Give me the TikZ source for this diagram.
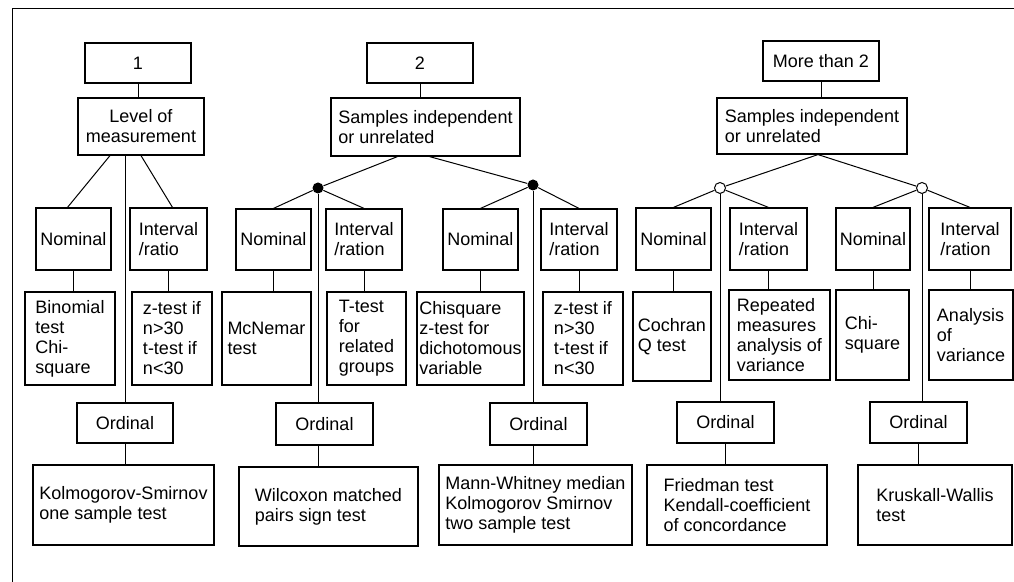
\documentclass[tikz,border=0pt]{standalone}
\usepackage{fontspec}
\setmainfont{Liberation Sans}
\usetikzlibrary{calc}
\begin{document}
\begin{tikzpicture}[x=0.5pt,y=-0.5pt,
box/.style={draw,line width=0.6pt,inner sep=1pt,align=left,font=\fontsize{9}{10}\selectfont},
link/.style={line width=0.5pt},
fdot/.style={circle,fill,inner sep=0pt,minimum size=5.5pt},
odot/.style={circle,draw,fill=white,line width=0.5pt,inner sep=0pt,minimum size=5.5pt}]
\useasboundingbox(0,0)rectangle(1014,582);
\draw[link](1014,9)--(12,9)--(12,582);
\node[box,minimum width=53pt,minimum height=20pt,align=center](one)at(138,63){1};
\node[box,minimum width=63pt,minimum height=28.5pt,align=center](lev)at(141,126.5){Level of\\measurement};
\node[box,minimum width=37.5pt,minimum height=31pt](nom1)at(73.5,239){Nominal};
\node[box,minimum width=38.5pt,minimum height=31pt](int1)at(168.5,239){Interval\\/ratio};
\node[box,minimum width=45pt,minimum height=46.5pt](res1a)at(70,338.5){Binomial\\test\\Chi-\\square};
\node[box,minimum width=40pt,minimum height=46.5pt](res1b)at(172,338.5){z-test if\\n>30\\t-test if\\n<30};
\node[box,minimum width=48pt,minimum height=20pt](ord1)at(125,423){Ordinal};
\node[box,minimum width=90.5pt,minimum height=40pt](ks1)at(123.5,505){Kolmogorov-Smirnov\\one sample test};
\draw[link](one.south)--(one.south|-lev.north);
\draw[link]([xshift=-15.5pt]lev.south)--([xshift=-3pt]nom1.north);
\draw[link](lev.south)--([xshift=2pt]int1.north);
\draw[link](ord1|-lev.south)--(ord1.north);
\draw[link](nom1.south)--(nom1.south|-res1a.north);
\draw[link](int1.south)--(int1.south|-res1b.north);
\draw[link](ord1.south)--(ord1.south|-ks1.north);
\node[box,minimum width=53pt,minimum height=20pt,align=center](two)at(420,63){2};
\node[box,minimum width=94.5pt,minimum height=29pt](sam2)at(425.5,127){Samples independent\\or unrelated};
\node[fdot](dA)at(318,188){};
\node[fdot](dB)at(533,185){};
\node[box,minimum width=37.5pt,minimum height=30.5pt](nom2a)at(273.5,239.5){Nominal};
\node[box,minimum width=38pt,minimum height=30.5pt](int2a)at(364,239.5){Interval\\/ration};
\node[box,minimum width=37.5pt,minimum height=30.5pt](nom2b)at(480.5,239.5){Nominal};
\node[box,minimum width=38pt,minimum height=30.5pt](int2b)at(579,239.5){Interval\\/ration};
\node[box,minimum width=44.5pt,minimum height=46.5pt](res2a)at(266.5,338.5){McNemar\\test};
\node[box,minimum width=39.5pt,minimum height=46.5pt](res2b)at(366.5,338.5){T-test\\for\\related\\groups};
\node[box,minimum width=53.5pt,minimum height=46.5pt](res2c)at(470.5,338.5){Chisquare\\z-test for\\dichotomous\\variable};
\node[box,minimum width=40pt,minimum height=46.5pt](res2d)at(583,338.5){z-test if\\n>30\\t-test if\\n<30};
\node[box,minimum width=48.5pt,minimum height=21pt](ord2a)at(324.5,424){Ordinal};
\node[box,minimum width=48.5pt,minimum height=21pt](ord2b)at(538.5,424){Ordinal};
\node[box,minimum width=89.5pt,minimum height=39.5pt](wil)at(328.5,506.5){Wilcoxon matched\\pairs sign test};
\node[box,minimum width=96.5pt,minimum height=40pt](mw)at(535.5,505){Mann-Whitney median\\Kolmogorov Smirnov\\two sample test};
\draw[link](two.south)--(two.south|-sam2.north);
\draw[link]([xshift=-14pt]sam2.south)--(dA)--(nom2a.north) (dA)--(int2a.north);
\draw[link]([xshift=2pt]sam2.south)--(dB)--(nom2b.north) (dB)--(int2b.north);
\draw[link](dA)--(dA|-ord2a.north) (dA|-ord2a.south)--(dA|-wil.north);
\draw[link](dB)--(dB|-ord2b.north) (dB|-ord2b.south)--(dB|-mw.north);
\draw[link](nom2a.south)--(nom2a.south|-res2a.north);
\draw[link](int2a.south)--(int2a.south|-res2b.north);
\draw[link](nom2b.south)--(nom2b.south|-res2c.north);
\draw[link](int2b.south)--(int2b.south|-res2d.north);
\node[box,minimum width=58pt,minimum height=20pt,align=center](more)at(821,61){More than 2};
\node[box,minimum width=95pt,minimum height=28pt](sam3)at(812,126){Samples independent\\or unrelated};
\node[odot](dC)at(720,188){};
\node[odot](dD)at(922,188){};
\node[box,minimum width=37.5pt,minimum height=31pt](nom3a)at(673.5,239){Nominal};
\node[box,minimum width=38.5pt,minimum height=31pt](int3a)at(768.5,239){Interval\\/ration};
\node[box,minimum width=37pt,minimum height=31pt](nom3b)at(873,239){Nominal};
\node[box,minimum width=41pt,minimum height=31pt](int3b)at(970,239){Interval\\/ration};
\node[box,minimum width=39pt,minimum height=44.5pt](res3a)at(672,336.5){Cochran\\Q test};
\node[box,minimum width=50.5pt,minimum height=45pt](res3b)at(779.5,335){Repeated\\measures\\analysis of\\variance};
\node[box,minimum width=36.5pt,minimum height=45pt](res3c)at(872.5,335){Chi-\\square};
\node[box,minimum width=42pt,minimum height=45pt](res3d)at(971,335){Analysis\\of\\variance};
\node[box,minimum width=48.5pt,minimum height=20.5pt](ord3a)at(725.5,422.5){Ordinal};
\node[box,minimum width=48.5pt,minimum height=20.5pt](ord3b)at(918.5,422.5){Ordinal};
\node[box,minimum width=90pt,minimum height=40pt](fri)at(737,505){Friedman test\\Kendall-coefficient\\of concordance};
\node[box,minimum width=77pt,minimum height=40pt](kru)at(935,505){Kruskall-Wallis\\test};
\draw[link](more.south)--(more.south|-sam3.north);
\draw[link]([xshift=3pt]sam3.south)--(dC)--(nom3a.north) (dC)--(int3a.north);
\draw[link]([xshift=3pt]sam3.south)--(dD)--(nom3b.north) (dD)--(int3b.north);
\draw[link](dC)--(dC|-ord3a.north);
\draw[link](dD)--(dD|-ord3b.north);
\draw[link](ord3a.south)--(ord3a.south|-fri.north);
\draw[link](ord3b.south)--(ord3b.south|-kru.north);
\draw[link](nom3a.south)--(nom3a.south|-res3a.north);
\draw[link](int3a.south)--(int3a.south|-res3b.north);
\draw[link](nom3b.south)--(nom3b.south|-res3c.north);
\draw[link](int3b.south)--(int3b.south|-res3d.north);
\end{tikzpicture}
\end{document}
